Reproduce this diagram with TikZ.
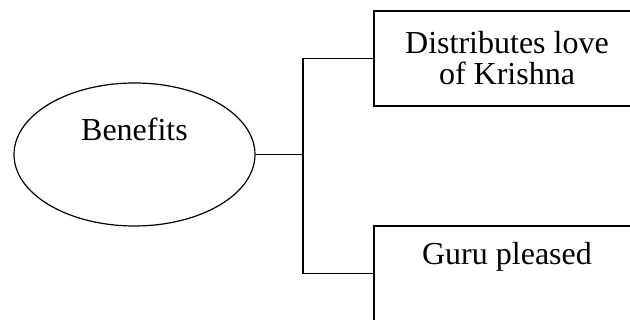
\documentclass[tikz,border=0pt]{standalone}
\usepackage{fontspec}
\setmainfont{Liberation Serif}
\usepackage{tikz}
\usetikzlibrary{shapes.geometric}
\newcommand{\bigtxt}{\fontsize{32}{31}\selectfont}
\tikzset{
  oval/.style={draw=black, ellipse, line width=1.2pt, minimum width=241pt, minimum height=143pt, inner sep=0pt, font=\bigtxt},
  box/.style={draw=black, rectangle, line width=1.2pt, minimum width=266pt, minimum height=95pt, inner sep=0pt, align=center, font=\bigtxt},
  link/.style={draw=black, line width=1.2pt},
}

\begin{document}
\begin{tikzpicture}[x=1pt,y=1pt]
  \useasboundingbox (0,0) rectangle (630,320);
  \node[oval, text height=22pt, text depth=50pt] (benefits) at (134.5,165.5) {Benefits};
  \node[box] (dist) at (507,261.5) {Distributes love\\of Krishna};
  \node[box, text height=22pt, text depth=39pt] (guru) at (507,46.5) {Guru pleased};
  \coordinate (fork) at (303,165.5);
  \draw[link] (benefits.east) -- (fork);
  \draw[link] (fork) |- (dist.west);
  \draw[link] (fork) |- (guru.west);
\end{tikzpicture}
\end{document}
